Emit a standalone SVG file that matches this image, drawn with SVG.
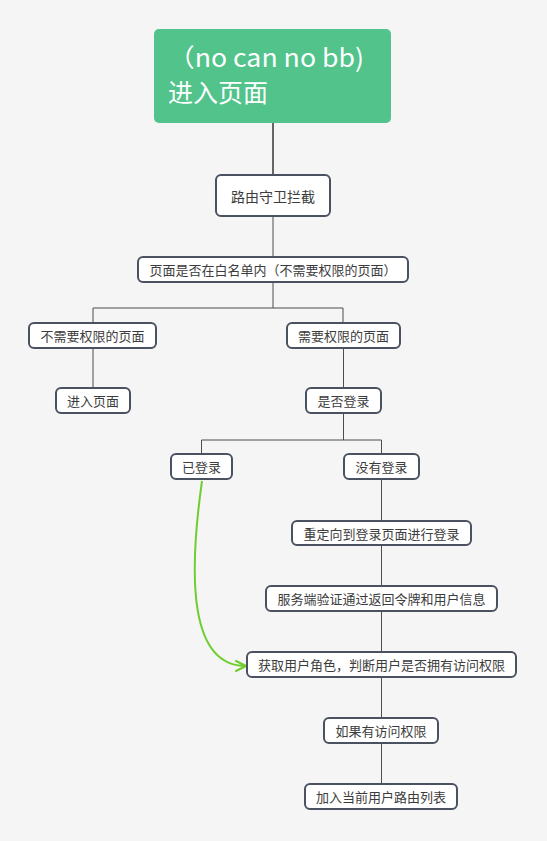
<svg xmlns="http://www.w3.org/2000/svg" width="547" height="841" viewBox="0 0 547 841">
<defs>
<style>
.bg{fill:#f5f5f5}
.node rect{fill:#ffffff;stroke:#4a5160;stroke-width:2}
.node text{font-family:"Noto Sans CJK SC","Noto Sans",sans-serif;font-size:13px;fill:#3c3c3c;text-anchor:middle;dominant-baseline:central}
.conn path{fill:none;stroke:#4d4d4d;stroke-width:1}
.root rect{fill:#51c38b}
.root text{font-family:"Noto Sans CJK SC","Noto Sans",sans-serif;font-size:25px;fill:#ffffff}
</style>
<marker id="arr" viewBox="0 0 12 12" refX="11" refY="6" markerWidth="12" markerHeight="12" markerUnits="userSpaceOnUse" orient="auto">
<path d="M1 1 L11 6 L1 11" fill="none" stroke="#6fce2f" stroke-width="2" stroke-linecap="round" stroke-linejoin="round"/>
</marker>
</defs>
<rect class="bg" x="0" y="0" width="547" height="841"/>
<g id="connectors" class="conn">
<path d="M273 123 V175" style="stroke:#666666;stroke-width:2"/>
<path d="M273 216 V258"/>
<path d="M273 282 V308 M93 323 V308 H343 V323"/>
<path d="M93 348 V388"/>
<path d="M343.5 348 V388"/>
<path d="M343.5 413 V440 M201.5 454 V440 H381.5 V454"/>
<path d="M381.5 479 V521"/>
<path d="M381.5 545 V586"/>
<path d="M381.5 611 V652"/>
<path d="M381.5 677 V718"/>
<path d="M381.5 743 V784"/>
<path d="M202 481 C188 580 190 666 246 666" style="stroke:#6fce2f;stroke-width:2" marker-end="url(#arr)"/>
</g>
<g id="n-root" class="root">
<rect x="154" y="29" width="237" height="94" rx="5"/>
<text x="168" y="67" textLength="196" lengthAdjust="spacingAndGlyphs">（no can no bb)</text>
<text x="168" y="102">进入页面</text>
</g>
<g id="n-guard" class="node">
<rect x="216" y="175" width="114" height="41" rx="5"/>
<text x="273" y="196" style="font-size:14px">路由守卫拦截</text>
</g>
<g id="n-whitelist" class="node">
<rect x="138" y="257" width="270" height="25" rx="5"/>
<text x="273" y="269.5">页面是否在白名单内（不需要权限的页面）</text>
</g>
<g id="n-noauth" class="node">
<rect x="29" y="323" width="127" height="25" rx="5"/>
<text x="92.5" y="335.5">不需要权限的页面</text>
</g>
<g id="n-auth" class="node">
<rect x="287" y="323" width="113" height="25" rx="5"/>
<text x="343.5" y="335.5">需要权限的页面</text>
</g>
<g id="n-enter" class="node">
<rect x="56" y="388" width="74" height="25" rx="5"/>
<text x="93" y="400.5">进入页面</text>
</g>
<g id="n-islogin" class="node">
<rect x="306" y="388" width="75" height="25" rx="5"/>
<text x="343.5" y="400.5">是否登录</text>
</g>
<g id="n-logged" class="node">
<rect x="171" y="454" width="61" height="25" rx="5"/>
<text x="201.5" y="466.5">已登录</text>
</g>
<g id="n-notlogged" class="node">
<rect x="344" y="454" width="75" height="25" rx="5"/>
<text x="381.5" y="466.5">没有登录</text>
</g>
<g id="n-redirect" class="node">
<rect x="292" y="521" width="179" height="24" rx="5"/>
<text x="381.5" y="533">重定向到登录页面进行登录</text>
</g>
<g id="n-server" class="node">
<rect x="266" y="586" width="231" height="25" rx="5"/>
<text x="381.5" y="598.5">服务端验证通过返回令牌和用户信息</text>
</g>
<g id="n-role" class="node">
<rect x="247" y="652" width="269" height="25" rx="5"/>
<text x="381.5" y="664.5">获取用户角色，判断用户是否拥有访问权限</text>
</g>
<g id="n-hasperm" class="node">
<rect x="324" y="718" width="114" height="25" rx="5"/>
<text x="381" y="730.5">如果有访问权限</text>
</g>
<g id="n-addroute" class="node">
<rect x="305" y="784" width="152" height="25" rx="5"/>
<text x="381" y="796.5">加入当前用户路由列表</text>
</g>
</svg>
